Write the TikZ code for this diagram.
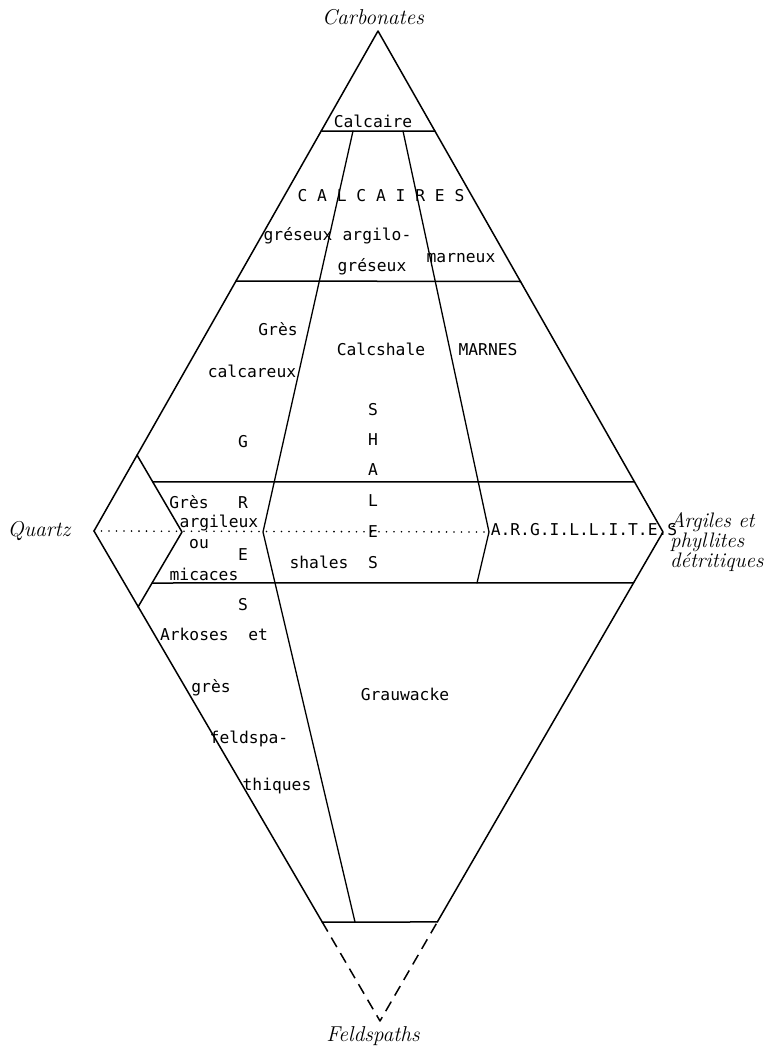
\documentclass[tikz,border=0pt]{standalone}
\usepackage{fontspec}
\newfontfamily\monofont{DejaVu Sans Mono}
\usetikzlibrary{calc}
\begin{document}
\begin{tikzpicture}[x=1pt,y=-1pt,line join=round,line cap=round,
  ln/.style={line width=1.5pt},
  thin/.style={line width=1.3pt},
  mono/.style={font=\monofont\fontsize{16.3}{16}\selectfont,anchor=base,inner sep=0pt},
  cur/.style={font=\fontsize{21.5}{21}\selectfont\itshape,anchor=base,inner sep=0pt},
  curr/.style={font=\fontsize{21}{20}\selectfont\itshape,anchor=base west,inner sep=0pt}]
\useasboundingbox (0,0) rectangle (781,1046);
% main vertices
\coordinate (T) at (378,31);
\coordinate (Q) at (94,531);
\coordinate (R) at (663,532);
\coordinate (F) at (380,1021);
% small rhombus
\coordinate (a1) at (137,455);
\coordinate (a2) at (182,532);
\coordinate (a3) at (138,607);
% horizontal lines
\coordinate (c1) at ($(T)!0.2!(Q)$);
\coordinate (c2) at ($(T)!0.2!(R)$);
\coordinate (h1) at ($(T)!0.5!(Q)$);
\coordinate (h2) at ($(T)!0.5!(R)$);
\coordinate (u1) at ($(a1)!0.35!(a2)$);
\coordinate (u2) at ($(T)!0.9!(R)$);
\coordinate (v1) at ($(a2)!0.68!(a3)$);
\coordinate (v2) at ($(R)!0.104!(F)$);
\coordinate (b1) at ($(Q)!0.798!(F)$);
\coordinate (b2) at ($(R)!0.7975!(F)$);
% internal lines
\coordinate (L1) at (353,131);
\coordinate (k1) at (263,532);
\coordinate (L2) at (355,922);
\coordinate (R1) at (403,131);
\coordinate (k2) at (489,532);
\coordinate (R2) at (477,583);

\draw[ln] (b1) -- (Q) -- (T) -- (R) -- (b2);
\draw[ln] (b1) -- (b2);
\draw[ln,line cap=butt,dash pattern=on 11pt off 7pt] (b1) -- (F) -- (b2);
\draw[ln] (a1) -- (a2) -- (a3);
\draw[ln] (c1) -- (c2);
\draw[ln] (h1) -- (h2);
\draw[ln] (u1) -- (u2);
\draw[ln] (v1) -- (v2);
\draw[thin] (L1) -- (k1) -- (L2);
\draw[thin] (R1) -- (k2) -- (R2);
\draw[line width=1.8pt,dash pattern=on 0pt off 7.5pt] (Q) -- (k2);

% labels
\node[cur] (carb) at (373,25) {Carbonates};
\node[cur] (quartz) at (39,536) {Quartz};
\node[cur] (feld) at (373,1041) {Feldspaths};
\node[curr] (arg1) at (670,527) {Argiles et};
\node[curr] (arg2) at (670,547) {phyllites};
\node[curr] (arg3) at (670,567) {détritiques};

\node[mono] (calcaire) at (373,128) {Calcaire};
\node[mono] (calcaires) at (381,201) {C A L C A I R E S};
\node[mono] (gres1) at (298,240) {gréseux};
\node[mono] (argilo) at (377,240) {argilo-};
\node[mono] (gres2) at (372,271) {gréseux};
\node[mono] (marneux) at (461,262) {marneux};
\node[mono] (gresc) at (278,335) {Grès};
\node[mono] (calcareux) at (252,377) {calcareux};
\node[mono] (calcshale) at (381,355) {Calcshale};
\node[mono] (marnes) at (488,355) {MARNES};
\node[mono] (sh1) at (373,415) {S};
\node[mono] (sh2) at (373,445) {H};
\node[mono] (sh3) at (373,475) {A};
\node[mono] (sh4) at (373,506) {L};
\node[mono] (sh5) at (373,537) {E};
\node[mono] (sh6) at (373,568) {S};
\node[mono] (g1) at (243,447) {G};
\node[mono] (g2) at (243,508) {R};
\node[mono] (g3) at (243,560) {E};
\node[mono] (g4) at (243,610) {S};
\node[mono] (gresa) at (189,508) {Grès};
\node[mono] (argileux) at (219,527) {argileux};
\node[mono] (ou) at (199,548) {ou};
\node[mono] (micaces) at (204,580) {micaces};
\node[mono] (shales) at (319,568) {shales};
\node[mono] (argillite) at (584,535) {A.R.G.I.L.L.I.T.E.S};
\node[mono] (arkoses) at (214,640) {Arkoses~~et};
\node[mono] (gresf) at (211,692) {grès};
\node[mono] (feldspa) at (249,743) {feldspa-};
\node[mono] (thiques) at (277,790) {thiques};
\node[mono] (grauwacke) at (405,700) {Grauwacke};
\end{tikzpicture}
\end{document}
